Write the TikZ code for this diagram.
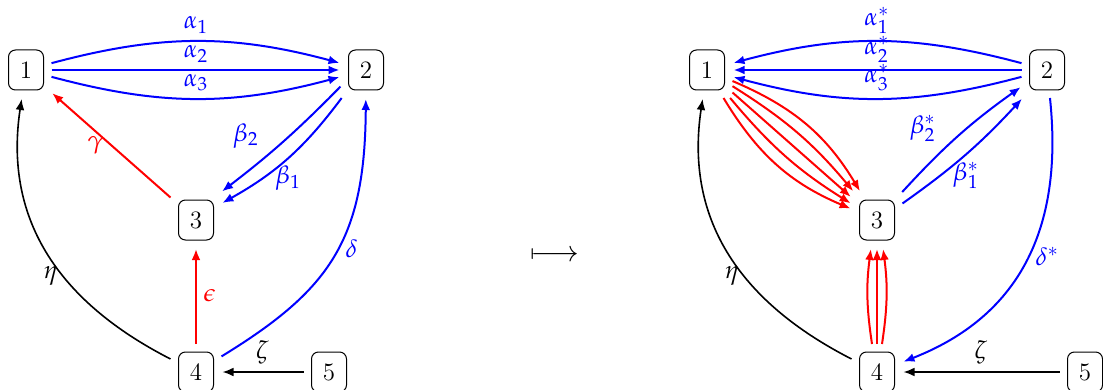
\documentclass[tikz,border=0pt]{standalone}
\usepackage{mathpazo}
\usetikzlibrary{arrows.meta}
\begin{document}
\begin{tikzpicture}[x=0.5pt,y=-0.5pt,
  box/.style={draw, rounded corners=3.5pt, minimum width=17.5pt, minimum height=20pt,
    inner sep=0pt, outer sep=4pt, line width=0.5pt, font=\fontsize{12.5}{15}\selectfont},
  edgebase/.style={line width=1pt, -{Latex[length=5.5pt,width=4.4pt]}, shorten >=0.5pt,
    every node/.style={font=\fontsize{12.5}{15}\selectfont}},
  bl/.style={edgebase, blue},
  rd/.style={edgebase, red},
  bk/.style={edgebase, black, line width=0.8pt}]
\useasboundingbox (0,0) rectangle (1103,390);
% left quiver
\node[box] (a1) at (26,70) {1};
\node[box] (a2) at (366,70) {2};
\node[box] (a3) at (196,220) {3};
\node[box] (a4) at (196,372) {4};
\node[box] (a5) at (329,372) {5};
\draw[bl] (a1) to[bend left=15] node[above] {$\alpha_1$} (a2);
\draw[bl] (a1) -- node[above] {$\alpha_2$} (a2);
\draw[bl] (a1) to[bend right=15] node[above] {$\alpha_3$} (a2);
\draw[bl] (a2.213) to[bend left=4] node[pos=0.65,above left] {$\beta_2$} (a3.48);
\draw[bl] (a2.229) to[bend left=12] node[pos=0.5,below] {$\beta_1$} (a3.33);
\draw[rd] (a3) -- node[left] {$\gamma$} (a1);
\draw[rd] (a4) -- node[right] {$\epsilon$} (a3);
\draw[bk] (a4) .. controls (55,300) and (4,216) .. node[pos=0.4,left,inner sep=2pt] {$\eta$} (a1);
\draw[bl] (a4) .. controls (330,290) and (365,240) .. node[pos=0.53,right] {$\delta$} (a2);
\draw[bk] (a5) -- node[above] {$\zeta$} (a4);
% map
\node[font=\fontsize{14.2}{17}\selectfont] (map) at (555,256) {$\longmapsto$};
% right quiver
\node[box] (b1) at (707,70) {1};
\node[box] (b2) at (1047,70) {2};
\node[box] (b3) at (877,220) {3};
\node[box] (b4) at (877,372) {4};
\node[box] (b5) at (1085,372) {5};
\draw[bl] (b2) to[bend right=15] node[above] {$\alpha_1^*$} (b1);
\draw[bl] (b2) -- node[above] {$\alpha_2^*$} (b1);
\draw[bl] (b2) to[bend left=15] node[above] {$\alpha_3^*$} (b1);
\draw[bl] (b3.48) to[bend left=6] node[pos=0.36,above left] {$\beta_2^*$} (b2.213);
\draw[bl] (b3.33) to[bend right=6] node[pos=0.5,below] {$\beta_1^*$} (b2.229);
\draw[rd] (b1) to[bend left=18] (b3);
\draw[rd] (b1) to[bend left=9] (b3);
\draw[rd] (b1) -- (b3);
\draw[rd] (b1) to[bend right=9] (b3);
\draw[rd] (b1) to[bend right=18] (b3);
\draw[rd] ([xshift=-2.5pt]b4.north) to[bend left=8] ([xshift=-3pt]b3.south);
\draw[rd] (b4) -- (b3);
\draw[rd] ([xshift=2.5pt]b4.north) to[bend right=8] ([xshift=3pt]b3.south);
\draw[bk] (b4) .. controls (736,300) and (685,216) .. node[pos=0.4,left,inner sep=2pt] {$\eta$} (b1);
\draw[bl] (b2) .. controls (1065,240) and (1010,320) .. node[pos=0.46,right] {$\delta^*$} (b4);
\draw[bk] (b5) -- node[above] {$\zeta$} (b4);
\end{tikzpicture}
\end{document}
